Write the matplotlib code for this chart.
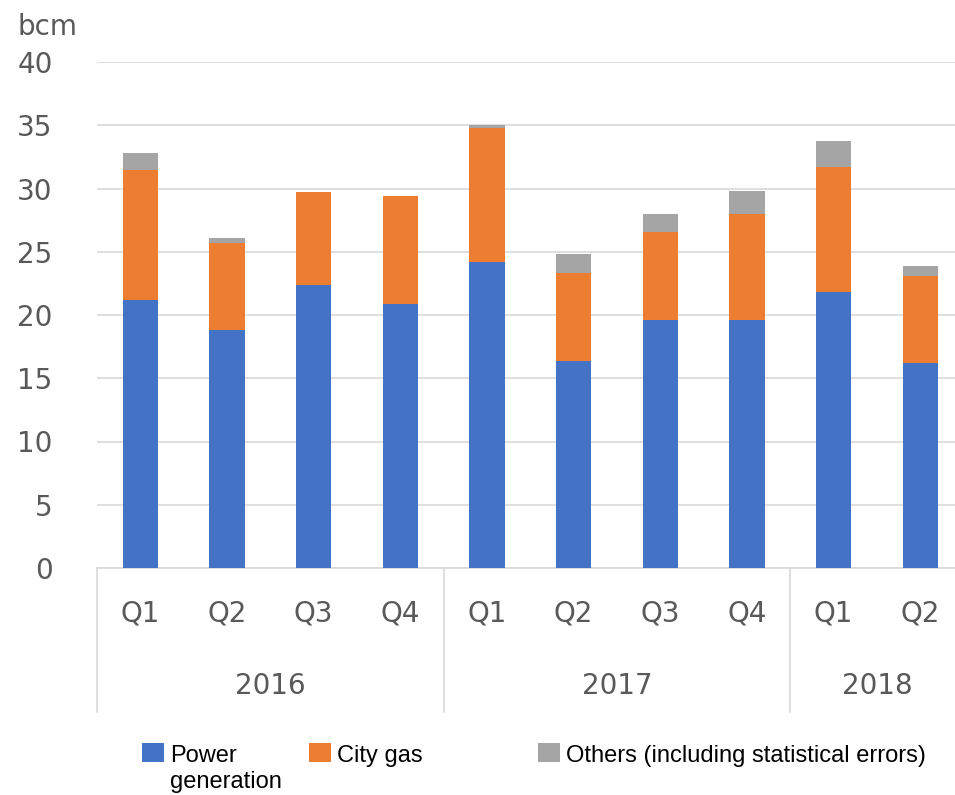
import matplotlib.pyplot as plt
from matplotlib.patches import Rectangle

# quarterly gas demand by sector, bcm
quarters = ['Q1', 'Q2', 'Q3', 'Q4', 'Q1', 'Q2', 'Q3', 'Q4', 'Q1', 'Q2']
years = ['2016', '2017', '2018']
year_sizes = [4, 4, 2]
power = [21.2, 18.8, 22.4, 20.9, 24.2, 16.4, 19.6, 19.6, 21.8, 16.2]
city_gas = [10.3, 6.9, 7.3, 8.5, 10.6, 6.9, 7.0, 8.4, 9.9, 6.9]
others = [1.3, 0.4, 0.0, 0.0, 0.25, 1.5, 1.4, 1.8, 2.05, 0.8]
series = [
    ('Power', power, '#4472C4'),
    ('City gas', city_gas, '#ED7D31'),
    ('Others (including statistical errors)', others, '#A5A5A5'),
]

W, H = 955, 795
TICK_COLOR = '#595959'
LINE_COLOR = '#D9D9D9'


def px(x, y):
    """Pixel position (from top-left) to figure fraction."""
    return x / W, 1 - y / H


fig = plt.figure(figsize=(W / 100, H / 100), dpi=100)
ax = fig.add_axes([97 / W, 1 - 568 / H, 1 - 97 / W, (568 - 62) / H])

x = list(range(len(quarters)))
bottom = [0.0] * len(x)
for name, values, color in series:
    ax.bar(x, values, width=0.41, bottom=bottom, color=color, edgecolor='none', zorder=3)
    bottom = [b + v for b, v in zip(bottom, values)]

ax.set_ylim(0, 40)
ax.set_xlim(-0.5, 9.4)
ax.set_yticks(range(0, 41, 5))
ax.yaxis.grid(True, color=LINE_COLOR, linewidth=1.2, zorder=0)
ax.tick_params(axis='y', length=0, pad=32, labelsize=20, labelcolor=TICK_COLOR)
ax.set_xticks([])
for side in ['top', 'right', 'left']:
    ax.spines[side].set_visible(False)
ax.spines['bottom'].set_color(LINE_COLOR)
ax.spines['bottom'].set_linewidth(1.2)

# two-level category axis: quarters, then years with separators
trans = ax.get_xaxis_transform()
for i, q in enumerate(quarters):
    ax.text(i, -0.089, q, transform=trans, ha='center', va='center',
            fontsize=20, color=TICK_COLOR)

start = 0
for year, size in zip(years, year_sizes):
    ax.plot([start - 0.5, start - 0.5], [0, -0.285], transform=trans,
            color=LINE_COLOR, linewidth=1.2, clip_on=False)
    ax.text(start + (size - 1) / 2, -0.233, year, transform=trans, ha='center',
            va='center', fontsize=20, color=TICK_COLOR)
    start += size

fig.text(*px(17, 35), 'bcm', fontsize=20, color=TICK_COLOR, va='baseline', ha='left')

# legend laid out by hand
legend_items = [
    (142, ['Power', 'generation'], '#4472C4'),
    (309, ['City gas'], '#ED7D31'),
    (538, ['Others (including statistical errors)'], '#A5A5A5'),
]
for lx, lines, color in legend_items:
    fig.add_artist(Rectangle(px(lx, 762), 22 / W, 19 / H, transform=fig.transFigure,
                             facecolor=color, edgecolor='none'))
    for k, line in enumerate(lines):
        fig.text(*px(lx + 28, 762 + 26 * k), line, fontsize=17, family='Liberation Sans',
                 color='black', va='baseline', ha='left')

fig.savefig('out.png', dpi=100)
